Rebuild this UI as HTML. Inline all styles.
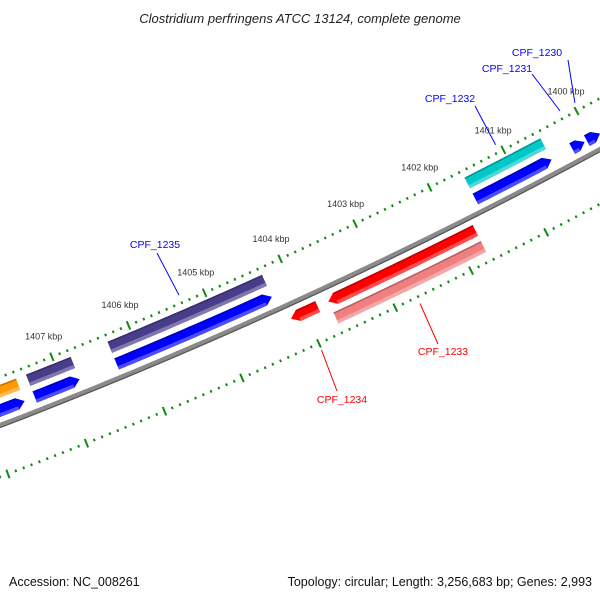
<!DOCTYPE html>
<html><head><meta charset="utf-8"><style>
html,body{margin:0;padding:0;background:#fff;}
svg{display:block;font-family:"Liberation Sans","DejaVu Sans",sans-serif;}
</style></head><body>
<svg id="map" width="600" height="600" viewBox="0 0 600 600" xmlns="http://www.w3.org/2000/svg">
<rect width="600" height="600" fill="#fff"/>
<text x="300" y="23" text-anchor="middle" font-size="13" font-style="italic" fill="#222">Clostridium perfringens ATCC 13124, complete genome</text>
<g id="ticks"></g>
<g id="backbone"></g>
<g id="genes"></g>
<g id="labels"></g>
<text x="9" y="586" font-size="12.5" fill="#111">Accession: NC_008261</text>
<text x="592" y="586" text-anchor="end" font-size="12.5" fill="#111">Topology: circular; Length: 3,256,683 bp; Genes: 2,993</text>
</svg>
<script>
const geneNames = ["CPF_1230","CPF_1231","CPF_1232","CPF_1233","CPF_1234","CPF_1235","",""];
const geneStarts = [1399880,1400090,1400540,1401740,1403830,1404280,1406790,1407500];
const geneEnds = [1400060,1400260,1401570,1403690,1404180,1406310,1407370,1408700];
const geneStrands = [1,1,1,-1,-1,1,1,1];
const cogColors = ["","","#00c8c8","#f08080","","#483d8b","#483d8b","#ff9900"];
const tickKbp = [1398,1399,1400,1401,1402,1403,1404,1405,1406,1407,1408,1409];

const NS="http://www.w3.org/2000/svg";
const CX=-1827, CY=-4336;
function ang(bp){return (61.61+(bp-1400000)/1000*0.9386)*Math.PI/180;}
function pt(bp,r){const a=ang(bp);return [CX+r*Math.cos(a),CY+r*Math.sin(a)];}
function mk(tag,attrs,parent){const e=document.createElementNS(NS,tag);for(const k in attrs)e.setAttribute(k,attrs[k]);parent.appendChild(e);return e;}
function arcPts(b0,b1,r){const n=24,out=[];for(let i=0;i<=n;i++){out.push(pt(b0+(b1-b0)*i/n,r));}return out;}
function poly(points){return points.map(p=>p[0].toFixed(2)+","+p[1].toFixed(2)).join(" ");}

// ticks
const tg=document.getElementById('ticks');
[5055,5148].forEach((R,ri)=>{
  for(let bp=1398000;bp<=1409500;bp+=100){
    const major=(bp%1000===0);
    const h=major?4.5:1.3;
    const a=pt(bp,R-h),b=pt(bp,R+h);
    const t=mk('line',{x1:a[0],y1:a[1],x2:b[0],y2:b[1],stroke:'#108a10','stroke-width':2},tg);
    
    
  }
});
tickKbp.forEach(k=>{
  const p=pt(k*1000,5033);
  const t=mk('text',{x:p[0],y:p[1]+3,'text-anchor':'middle','font-size':'9',fill:'#333'},tg);
  t.textContent=k+' kbp';
  
  
});

// backbone
const bg=document.getElementById('backbone');
const bbA=arcPts(1398000,1409500,5097.5), bbB=arcPts(1398000,1409500,5102.5).reverse();
const bb=mk('polygon',{points:poly(bbA.concat(bbB)),fill:'#8a8a8a'},bg);


const bbl=mk('polyline',{points:poly(arcPts(1398000,1409500,5102)),fill:'none',stroke:'#555','stroke-width':1.2},bg);



function shape(s,e,r1,r2,arrow,strand){
  const head=95;
  if(!arrow){return arcPts(s,e,r1).concat(arcPts(s,e,r2).reverse());}
  const rm=(r1+r2)/2;
  if(strand>0){const s2=Math.min(s+head,e);return [pt(s,rm)].concat(arcPts(s2,e,r1)).concat(arcPts(s2,e,r2).reverse());}
  const e2=Math.max(e-head,s);return arcPts(s,e2,r1).concat([pt(e,rm)]).concat(arcPts(s,e2,r2).reverse());
}
function lighten(c,f){const n=parseInt(c.slice(1),16);let r=n>>16,g=(n>>8)&255,b=n&255;
  r=Math.round(r+(255-r)*f);g=Math.round(g+(255-g)*f);b=Math.round(b+(255-b)*f);return 'rgb('+r+','+g+','+b+')';}
function darken(c,f){const n=parseInt(c.slice(1),16);return 'rgb('+Math.round((n>>16)*f)+','+Math.round(((n>>8)&255)*f)+','+Math.round((n&255)*f)+')';}
function drawBar(g,s,e,r1,r2,color,arrow,strand,name){
  const main=mk('polygon',{points:poly(shape(s,e,r1,r2,arrow,strand)),fill:color},g);
  
  
  const head=arrow?95:0;
  const s2=strand>0?s+head:s, e2=strand>0?e:e-head;
  const lt=mk('polygon',{points:poly(arcPts(s2,e2,r2-3.5).concat(arcPts(s2,e2,r2).reverse())),fill:lighten(color,0.3)},g);
  
  
  const dk=mk('polygon',{points:poly(arcPts(s2,e2,r1).concat(arcPts(s2,e2,r1+1.5).reverse())),fill:darken(color,0.75)},g);
  
  
}
const gg=document.getElementById('genes');
geneStarts.forEach((s,i)=>{
  const e=geneEnds[i],st=geneStrands[i];
  const nm=(geneNames[i]||('gene-'+i)).toLowerCase().replace('_','-');
  if(st>0){drawBar(gg,s,e,5080,5092,'#0000ff',true,1,nm+'-feature');
    if(cogColors[i])drawBar(gg,s,e,5062,5074,cogColors[i],false,1,nm+'-cog');}
  else{drawBar(gg,s,e,5108,5120,'#ff0000',true,-1,nm+'-feature');
    if(cogColors[i])drawBar(gg,s,e,5126,5138,cogColors[i],false,-1,nm+'-cog');}
});

// labels (text positions are layout)
const labelPos={"CPF_1230":[537,56,568,60],"CPF_1231":[507,72,532,74],"CPF_1232":[450,102,475,106],
  "CPF_1233":[443,355,438,344],"CPF_1234":[342,403,337,391],"CPF_1235":[155,248,157,253]};
const lg=document.getElementById('labels');
geneNames.forEach((n,i)=>{
  if(!n)return;
  const lp=labelPos[n];const st=geneStrands[i];
  const mid=(geneStarts[i]+geneEnds[i])/2;
  const p=pt(mid,st>0?5047:5155);
  const col=st>0?'#0000ff':'#ff0000';
  const ln=mk('line',{x1:p[0],y1:p[1],x2:lp[2],y2:lp[3],stroke:col,'stroke-width':1},lg);
  
  
  const t=mk('text',{x:lp[0],y:lp[1],'text-anchor':'middle','font-size':'10.5',fill:col},lg);
  t.textContent=n;
  
  
});
</script>
</body></html>
